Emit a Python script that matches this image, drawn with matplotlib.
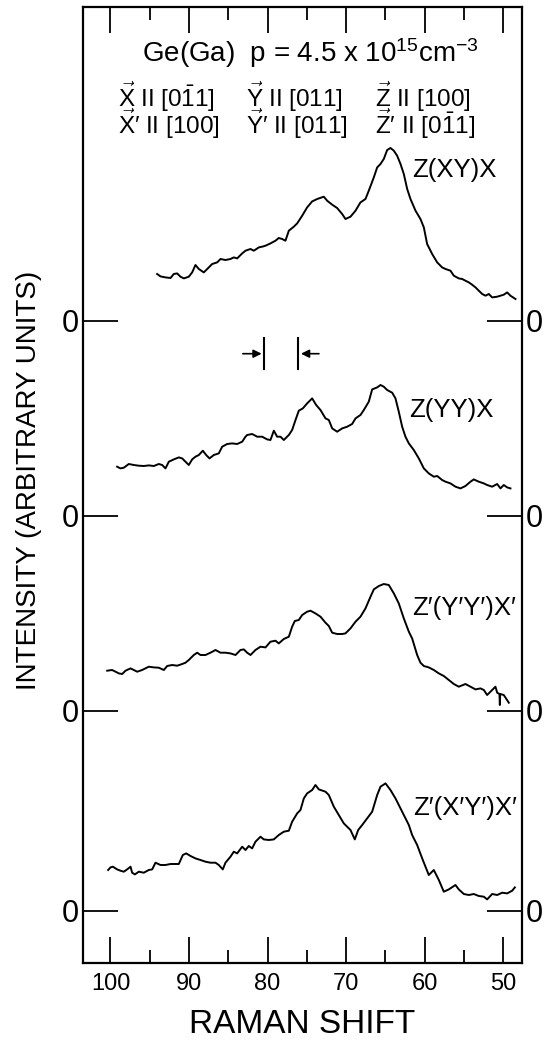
import matplotlib
matplotlib.use("Agg")
import matplotlib.pyplot as plt

FONT = ["Liberation Sans", "DejaVu Sans"]
plt.rcParams["font.family"] = FONT
plt.rcParams["mathtext.fontset"] = "custom"
plt.rcParams["mathtext.rm"] = "Liberation Sans"
plt.rcParams["mathtext.it"] = "Liberation Sans"

# spectra: raman shift (cm-1) and intensity (arb. units)
x_xy = [94.06, 93.63, 93.0, 92.36, 91.94, 91.51, 91.09, 90.66, 90.03, 89.6, 89.18, 88.75,
        88.12, 87.48, 87.05, 86.42, 85.99, 85.36, 84.72, 84.3, 83.87, 83.23, 82.81, 82.17,
        81.75, 81.11, 80.69, 80.26, 79.63, 78.99, 78.57, 78.14, 77.72, 77.29, 76.66, 76.23,
        75.59, 74.96, 74.32, 73.68, 72.84, 72.41, 71.77, 71.14, 70.5, 70.08, 69.44, 68.8,
        68.17, 67.53, 67.11, 66.47, 66.04, 65.62, 65.2, 64.77, 64.35, 63.92, 63.5, 63.07,
        62.65, 62.22, 61.8, 61.16, 60.53, 60.1, 59.68, 59.04, 58.4, 57.77, 57.34, 56.71,
        56.28, 55.65, 55.22, 54.8, 54.37, 53.95, 53.52, 53.1, 52.67, 52.25, 51.83, 51.4,
        50.76, 50.34, 49.92, 49.49, 49.07, 48.43]
i_xy = [4.67, 4.43, 4.33, 4.27, 4.67, 4.73, 4.4, 4.23, 4.4, 4.83, 5.57, 5.17,
        4.83, 5.33, 5.67, 5.83, 6.17, 6.07, 6.17, 6.33, 6.23, 6.73, 7.0, 7.17,
        7.0, 7.33, 7.4, 7.5, 7.73, 8.0, 8.27, 8.17, 8.0, 9.0, 9.4, 9.73,
        10.5, 11.33, 11.93, 12.17, 12.4, 12.0, 11.6, 11.27, 10.67, 10.17, 10.4, 11.0,
        11.83, 12.17, 13.0, 14.33, 15.33, 15.67, 16.17, 17.07, 17.27, 17.0, 16.5, 15.67,
        14.67, 13.17, 12.17, 11.0, 10.17, 9.33, 7.67, 6.67, 5.83, 5.33, 5.17, 5.0,
        4.5, 4.23, 4.17, 4.0, 3.83, 3.6, 3.33, 3.0, 2.67, 2.5, 2.67, 2.33,
        2.4, 2.5, 2.6, 2.83, 2.5, 2.17]

x_yy = [99.15, 98.73, 98.3, 97.67, 97.03, 96.39, 95.76, 95.12, 94.48, 93.85, 93.42, 93.0,
        92.57, 91.94, 91.3, 90.87, 90.45, 90.03, 89.6, 89.18, 88.75, 88.24, 87.82, 87.39,
        86.84, 86.21, 85.78, 85.14, 84.51, 83.87, 83.23, 82.81, 82.6, 81.96, 81.32, 80.69,
        80.05, 79.63, 79.2, 78.78, 78.35, 77.93, 77.29, 76.87, 76.44, 76.02, 75.51, 74.96,
        74.32, 73.81, 73.26, 72.62, 72.2, 71.77, 71.14, 70.5, 69.86, 69.23, 68.8, 68.17,
        67.74, 67.11, 66.68, 66.04, 65.62, 65.2, 64.77, 64.13, 63.71, 63.29, 62.86, 62.44,
        62.01, 61.38, 60.74, 60.1, 59.47, 58.83, 58.4, 57.77, 57.34, 56.71, 56.07, 55.43,
        54.8, 54.16, 53.74, 53.1, 52.46, 52.04, 51.4, 50.76, 50.34, 49.92, 49.49, 49.07]
i_yy = [4.9, 4.73, 4.8, 5.17, 5.07, 5.0, 4.97, 5.03, 4.97, 5.17, 5.07, 4.73,
        5.4, 5.63, 5.83, 5.73, 5.4, 5.07, 5.63, 5.9, 6.07, 6.5, 6.07, 5.73,
        6.07, 6.23, 6.9, 7.17, 7.23, 7.17, 7.4, 7.9, 8.07, 8.17, 7.9, 7.9,
        7.63, 7.57, 8.5, 7.9, 7.9, 7.57, 8.07, 8.57, 9.57, 10.5, 10.73, 11.23,
        11.73, 11.07, 10.57, 9.73, 9.57, 8.73, 8.4, 8.73, 8.9, 9.17, 9.73, 10.07,
        10.57, 11.4, 12.63, 12.83, 13.07, 12.9, 12.57, 12.3, 11.73, 10.4, 8.9, 7.9,
        7.23, 6.57, 5.73, 4.73, 4.23, 3.9, 3.97, 3.57, 3.4, 3.23, 2.9, 2.73,
        2.97, 3.4, 3.63, 3.4, 3.23, 3.07, 2.9, 3.17, 2.73, 3.07, 2.83, 2.73]

x_ypyp = [100.42, 99.79, 99.36, 98.94, 98.51, 98.09, 97.45, 97.03, 96.6, 95.97, 95.12, 94.48,
          93.85, 93.21, 92.78, 92.15, 91.51, 90.87, 90.45, 90.03, 89.39, 88.96, 88.54, 87.9,
          87.27, 86.63, 85.99, 85.36, 84.72, 84.08, 83.45, 83.02, 82.6, 82.17, 81.54, 80.9,
          80.26, 79.63, 78.99, 78.57, 77.93, 77.29, 76.87, 76.53, 76.02, 75.59, 74.96, 74.53,
          73.9, 73.26, 72.62, 72.2, 71.77, 71.14, 70.5, 70.08, 69.44, 68.8, 68.17, 67.53,
          66.89, 66.47, 65.83, 65.2, 64.56, 63.92, 63.29, 62.65, 62.01, 61.59, 60.95, 60.53,
          60.1, 59.47, 58.83, 58.19, 57.56, 56.92, 56.28, 55.65, 54.8, 54.16, 53.52, 52.89,
          52.46, 52.04, 51.4, 50.98, 50.76, 50.47, 50.42, 50.38, 49.92, 49.28]
i_ypyp = [4.0, 4.07, 3.9, 3.73, 3.67, 4.0, 4.23, 4.07, 3.9, 4.07, 4.4, 4.33,
          4.3, 4.07, 4.47, 4.57, 4.5, 4.67, 4.8, 5.07, 5.57, 5.8, 5.57, 5.57,
          5.8, 6.07, 5.8, 5.8, 5.73, 5.57, 6.07, 6.13, 5.8, 5.57, 6.07, 6.4,
          6.33, 6.9, 7.0, 6.73, 7.17, 7.4, 8.4, 8.97, 9.07, 9.57, 9.9, 10.0,
          9.73, 9.4, 8.8, 8.47, 7.8, 7.67, 7.67, 7.73, 8.23, 8.9, 9.4, 10.23,
          11.4, 12.13, 12.47, 12.67, 12.57, 11.73, 10.73, 9.23, 7.9, 7.23, 5.57, 4.8,
          4.47, 4.33, 4.07, 3.73, 3.47, 3.07, 2.67, 2.4, 2.67, 2.4, 2.13, 2.23,
          2.07, 1.57, 2.07, 2.4, 1.8, 1.67, 0.57, 1.67, 1.57, 0.8]

x_xpyp = [100.3, 100.0, 99.7, 99.15, 98.73, 98.3, 97.88, 97.45, 97.24, 96.9, 96.39, 95.76,
          95.12, 94.69, 94.27, 93.63, 93.0, 92.36, 91.72, 91.3, 90.79, 90.36, 89.81, 89.18,
          88.54, 87.9, 87.27, 86.63, 86.21, 85.7, 85.36, 84.72, 84.3, 83.87, 83.23, 82.81,
          82.39, 81.96, 81.54, 80.9, 80.48, 79.84, 79.2, 78.57, 77.93, 77.29, 76.87, 76.23,
          75.81, 75.38, 74.96, 74.32, 73.9, 73.47, 72.62, 72.2, 71.56, 70.93, 70.29, 69.44,
          68.89, 68.46, 67.95, 67.32, 66.68, 66.04, 65.62, 64.98, 64.35, 63.71, 63.07, 62.65,
          62.01, 61.59, 60.95, 60.31, 59.89, 59.47, 58.83, 58.19, 57.56, 56.92, 56.07, 55.65,
          55.01, 54.37, 53.74, 53.1, 52.46, 52.04, 51.4, 50.76, 50.13, 49.49, 48.85, 48.51]
i_xpyp = [4.07, 4.33, 4.4, 4.13, 4.0, 3.9, 4.13, 4.4, 3.8, 3.63, 3.9, 3.8,
          4.07, 4.13, 4.8, 4.57, 4.57, 4.67, 4.67, 4.67, 5.57, 5.73, 5.47, 5.23,
          5.07, 4.9, 4.8, 4.8, 4.57, 4.13, 4.8, 5.4, 5.9, 5.73, 6.4, 6.07,
          6.47, 6.23, 6.9, 7.4, 7.13, 7.07, 7.13, 7.57, 7.9, 8.0, 8.9, 9.73,
          10.07, 11.23, 11.73, 12.07, 12.57, 12.13, 11.9, 11.57, 10.4, 9.57, 8.73, 8.07,
          7.13, 8.07, 8.57, 9.23, 9.9, 11.57, 12.4, 12.73, 12.07, 11.23, 10.23, 9.57,
          8.57, 7.57, 6.57, 5.23, 4.4, 3.57, 4.07, 3.07, 1.9, 2.13, 2.57, 2.13,
          1.67, 1.57, 1.67, 1.47, 1.4, 1.13, 1.67, 1.57, 1.8, 1.73, 2.0, 2.33]

spectra = [(x_xy, i_xy), (x_yy, i_yy), (x_ypyp, i_ypyp), (x_xpyp, i_xpyp)]
offsets = [59.0, 39.5, 20.0, 0.0]
labels = ["Z(XY)X", "Z(YY)X", "Z\u2032(Y\u2032Y\u2032)X\u2032", "Z\u2032(X\u2032Y\u2032)X\u2032"]
label_pos = [(61.6, 73.4), (62.0, 49.4), (61.6, 29.6), (61.4, 9.6)]

# resolution marker (slit width)
marker_x = [80.4, 76.1]
marker_y = 55.7

W, H = 547, 1043
fig = plt.figure(figsize=(W / 100, H / 100), dpi=100)
ax = fig.add_axes([83 / W, 80 / H, 439 / W, 956 / H])

for (xs, ys), off in zip(spectra, offsets):
    ax.plot(xs, [v + off for v in ys], color="black", lw=1.4, solid_joinstyle="round")

for (lx, ly), lab in zip(label_pos, labels):
    ax.text(lx, ly, lab, fontsize=18.5, family=FONT, va="baseline", ha="left")

# arrows pointing at the two vertical bars
ax.plot([marker_x[0]] * 2, [54.2, 57.3], color="black", lw=1.5)
ax.plot([marker_x[1]] * 2, [54.2, 57.3], color="black", lw=1.5)
ax.annotate("", xy=(marker_x[0], marker_y), xytext=(marker_x[0] + 3.1, marker_y),
            arrowprops=dict(arrowstyle="-|>", color="black", lw=1.2, mutation_scale=12))
ax.annotate("", xy=(marker_x[1], marker_y), xytext=(marker_x[1] - 3.0, marker_y),
            arrowprops=dict(arrowstyle="-|>", color="black", lw=1.2, mutation_scale=12))

ax.set_xlim(103.5, 47.6)
ax.set_ylim(-5.23, 90.37)
ax.set_xticks([100, 90, 80, 70, 60, 50])
ax.set_xticks([95, 85, 75, 65, 55], minor=True)
ax.set_xticklabels(["100", "90", "80", "70", "60", "50"], fontsize=17, family=FONT)
ax.tick_params(axis="x", which="major", direction="in", length=19, width=1.3,
               top=True, bottom=True, pad=7)
ax.tick_params(axis="x", which="minor", direction="in", length=9.5, width=1.3,
               top=True, bottom=True)
ax.set_yticks(offsets)
ax.set_yticklabels(["0"] * 4, fontsize=22, family=FONT)
ax.tick_params(axis="y", direction="in", length=25, width=1.3, left=True, right=True,
               labelleft=True, labelright=True, pad=3)
for s in ax.spines.values():
    s.set_linewidth(1.6)

ax.set_xlabel("RAMAN SHIFT", fontsize=24, family=FONT, labelpad=10)
ax.set_ylabel("INTENSITY (ARBITRARY UNITS)", fontsize=20, family=FONT)
ax.yaxis.set_label_coords(-0.093, 0.505)

# header text
fig.text(142 / W, 1 - 62 / H, r"Ge(Ga)  p = 4.5 x 10$^{15}$cm$^{-3}$", fontsize=20,
         family=FONT, va="baseline", ha="left")
row1 = [r"$\vec{\mathrm{X}}$ II [0$\bar{\mathrm{1}}$1]", r"$\vec{\mathrm{Y}}$ II [011]",
        r"$\vec{\mathrm{Z}}$ II [100]"]
row2 = [r"$\vec{\mathrm{X}}$' II [100]", r"$\vec{\mathrm{Y}}$' II [011]",
        r"$\vec{\mathrm{Z}}$' II [0$\bar{\mathrm{1}}$1]"]
row2 = [t.replace("'", "\u2032") for t in row2]
col_x = [118, 246, 375]
for cx, t1, t2 in zip(col_x, row1, row2):
    fig.text(cx / W, 1 - 107 / H, t1, fontsize=17.5, family=FONT, va="baseline")
    fig.text(cx / W, 1 - 134 / H, t2, fontsize=17.5, family=FONT, va="baseline")

fig.savefig("out.png", dpi=100)
